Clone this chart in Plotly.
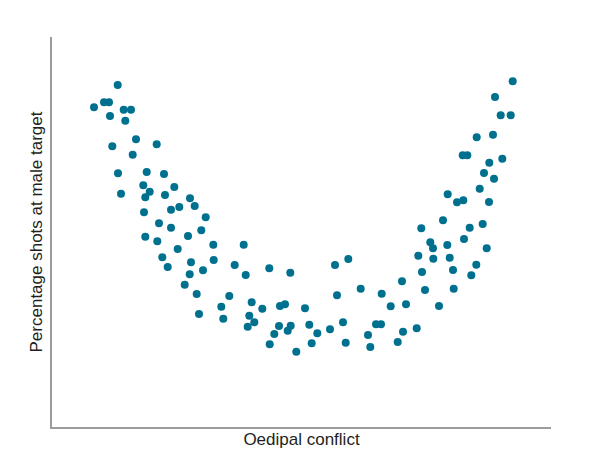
import plotly.graph_objects as go

# Scatter of Oedipal conflict vs percentage of shots at the male target.
# Values (arbitrary axis units).
conflict = [
    65.7, 42.0, 52.0, 57.0, 58.0, 71.7, 79.0, 73.3, 84.0, 60.3,
    104.7, 80.7, 66.0, 94.7, 112.0, 91.3, 122.3, 69.0, 97.7, 93.3,
    113.0, 138.0, 142.7, 127.3, 119.0, 92.0, 107.0, 119.0, 93.3, 105.3,
    136.0, 125.7, 110.3, 115.7, 139.0, 137.7, 132.7, 144.7, 153.7, 149.3,
    161.3, 191.7, 161.7, 151.0, 182.7, 193.7, 217.3, 238.3, 177.3, 147.0,
    169.3, 171.3, 199.7, 210.3, 228.0, 233.0, 197.3, 202.3, 195.7, 227.0,
    238.7, 235.7, 222.3, 217.7, 244.3, 253.0,
    283.0, 296.3, 285.0, 308.7, 329.7, 350.0, 338.7, 354.0, 257.3, 265.3,
    278.0, 291.0, 259.7, 293.7, 316.0, 318.3, 324.0, 329.0, 345.7, 351.0,
    364.7,
    460.7, 443.0, 448.7, 458.7, 441.0, 424.7, 410.7, 415.3, 450.3, 437.3,
    432.0, 442.0, 427.7, 395.7, 405.0, 411.3, 437.0, 391.0, 369.3, 417.7,
    430.7, 412.0, 378.3, 381.0, 395.3, 434.7, 366.3, 381.3, 397.7, 370.0,
    401.0, 424.3, 419.3, 373.0, 401.7, 387.0,
]
shots_male = [
    342.0, 319.7, 324.7, 324.7, 311.0, 317.3, 317.3, 306.3, 287.7, 280.7,
    282.7, 272.3, 253.7, 255.0, 253.0, 241.7, 240.0, 233.3, 235.3, 229.7,
    232.0, 228.7, 221.0, 220.0, 217.3, 214.7, 203.7, 199.3, 190.3, 185.7,
    191.0, 178.0, 169.7, 160.0, 164.7, 152.7, 142.3, 133.0, 209.7, 196.7,
    182.3, 182.3, 167.0, 156.7, 162.0, 152.0, 158.7, 154.3, 131.0, 113.0,
    120.3, 108.3, 124.7, 118.3, 121.0, 122.7, 111.3, 104.7, 100.3, 101.0,
    101.3, 96.3, 93.0, 82.7, 75.3, 118.7,
    162.0, 168.0, 131.7, 138.3, 133.3, 145.7, 120.7, 122.7, 102.3, 93.7,
    97.7, 104.7, 83.7, 84.3, 92.0, 80.0, 102.7, 102.7, 85.0, 95.3,
    98.7,
    345.7, 330.0, 311.7, 311.7, 292.3, 289.7, 271.7, 271.7, 268.3, 264.3,
    254.0, 248.3, 238.3, 232.7, 224.7, 226.7, 225.0, 206.7, 198.7, 199.3,
    203.0, 188.0, 184.7, 178.7, 182.0, 178.7, 171.3, 168.3, 169.3, 155.0,
    157.0, 162.3, 151.7, 137.0, 138.3, 121.0,
]

x_title = "Oedipal conflict"
y_title = "Percentage shots at male target"

DOT = "#00708f"
AXIS = "#9c9c9c"
FONT = "Liberation Sans, Arial, sans-serif"

fig = go.Figure(
    go.Scatter(
        x=conflict,
        y=shots_male,
        mode="markers",
        marker=dict(color=DOT, size=8, line=dict(width=0)),
        hoverinfo="x+y",
    )
)

# the page body has an 8px default margin, so the margins are trimmed by 8
fig.update_layout(
    width=602,
    height=468,
    margin=dict(l=44, r=59, t=29, b=49),
    paper_bgcolor="white",
    plot_bgcolor="white",
    showlegend=False,
    font=dict(family=FONT, size=14, color="#231f20"),
)

fig.update_xaxes(
    range=[0, 499],
    showgrid=False,
    zeroline=False,
    showticklabels=False,
    ticks="",
    showline=True,
    linecolor=AXIS,
    linewidth=2,
    title=dict(text=x_title, standoff=5),
)
fig.update_yaxes(
    range=[0, 390],
    showgrid=False,
    zeroline=False,
    showticklabels=False,
    ticks="",
    showline=True,
    linecolor=AXIS,
    linewidth=2,
    title=dict(text=y_title, standoff=3),
)

fig.write_html("out.html")
